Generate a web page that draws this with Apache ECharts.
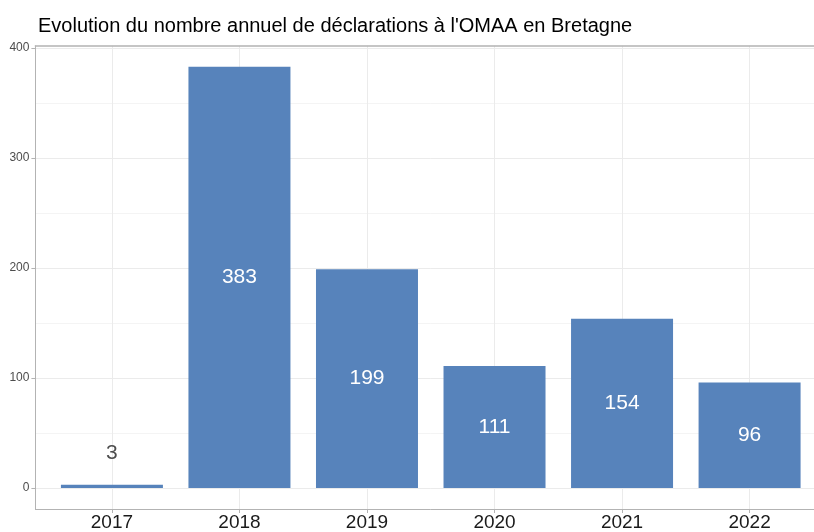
<!DOCTYPE html>
<html>
<head>
<meta charset="utf-8">
<script src="https://cdn.jsdelivr.net/npm/echarts@6/dist/echarts.min.js"></script>
<style>html,body{margin:0;padding:0;background:#fff;overflow:hidden;width:814px;height:532px}#c{width:830px;height:532px}</style>
</head>
<body>
<div id="c"></div>
<script>
const years = ['2017', '2018', '2019', '2020', '2021', '2022'];
const counts = [3, 383, 199, 111, 154, 96];
const yMajor = [0, 100, 200, 300, 400];
const yMinor = [50, 150, 250, 350];
const xPos = years.map((y, i) => i + 1);

const chart = echarts.init(document.getElementById('c'));
const font = 'Liberation Sans, Arial, sans-serif';
chart.setOption({
  animation: false,
  textStyle: { fontFamily: font },
  title: {
    text: "Evolution du nombre annuel de déclarations à l'OMAA en Bretagne",
    left: 33, top: 11,
    textStyle: { fontFamily: font, fontSize: 20, fontWeight: 'normal', color: '#000' }
  },
  grid: { left: 35.4, right: 3.9, top: 45.8, bottom: 22.8, containLabel: false },
  xAxis: [{
    type: 'value', min: 0.4, max: 6.6,
    axisLine: { show: true, onZero: false, lineStyle: { color: '#B3B3B3', width: 1 } },
    axisTick: { show: true, customValues: xPos, length: 4, lineStyle: { color: '#B3B3B3' } },
    axisLabel: { customValues: xPos, formatter: v => years[Math.round(v) - 1], fontSize: 19, color: '#1A1A1A', margin: 4, fontFamily: font },
    splitLine: { show: true, lineStyle: { color: '#EBEBEB', width: 1 } }
  }, {
    type: 'value', min: 0.4, max: 6.6, position: 'top',
    axisLine: { show: true, onZero: false, lineStyle: { color: '#B3B3B3', width: 1.5 } },
    axisTick: { show: false }, axisLabel: { show: false }, splitLine: { show: false }
  }],
  yAxis: [{
    type: 'value', min: -19.15, max: 402.15,
    axisLine: { show: true, onZero: false, lineStyle: { color: '#B3B3B3', width: 1 } },
    axisTick: { show: true, customValues: yMajor, length: 4, lineStyle: { color: '#B3B3B3' } },
    axisLabel: { customValues: yMajor, fontSize: 12, color: '#4D4D4D', margin: 6, fontFamily: font },
    splitLine: { show: true, lineStyle: { color: '#EBEBEB', width: 1 } }
  }, {
    type: 'value', min: -19.15, max: 402.15, position: 'left',
    axisLine: { show: false },
    axisTick: { show: false, customValues: yMinor },
    axisLabel: { show: false, customValues: yMinor },
    splitLine: { show: true, lineStyle: { color: '#F4F4F4', width: 1 } }
  }],
  series: [{
    type: 'bar',
    xAxisIndex: 0, yAxisIndex: 0,
    barWidth: 102,
    itemStyle: { color: '#5783BB' },
    label: {
      show: true, position: 'inside', color: '#fff', fontSize: 21, fontFamily: font,
      formatter: p => String(p.value[1])
    },
    data: counts.map((v, i) => {
      const item = { value: [xPos[i], v] };
      if (v < 20) item.label = { position: 'top', distance: 21, color: '#4D4D4D' };
      return item;
    })
  }]
});
</script>
</body>
</html>
